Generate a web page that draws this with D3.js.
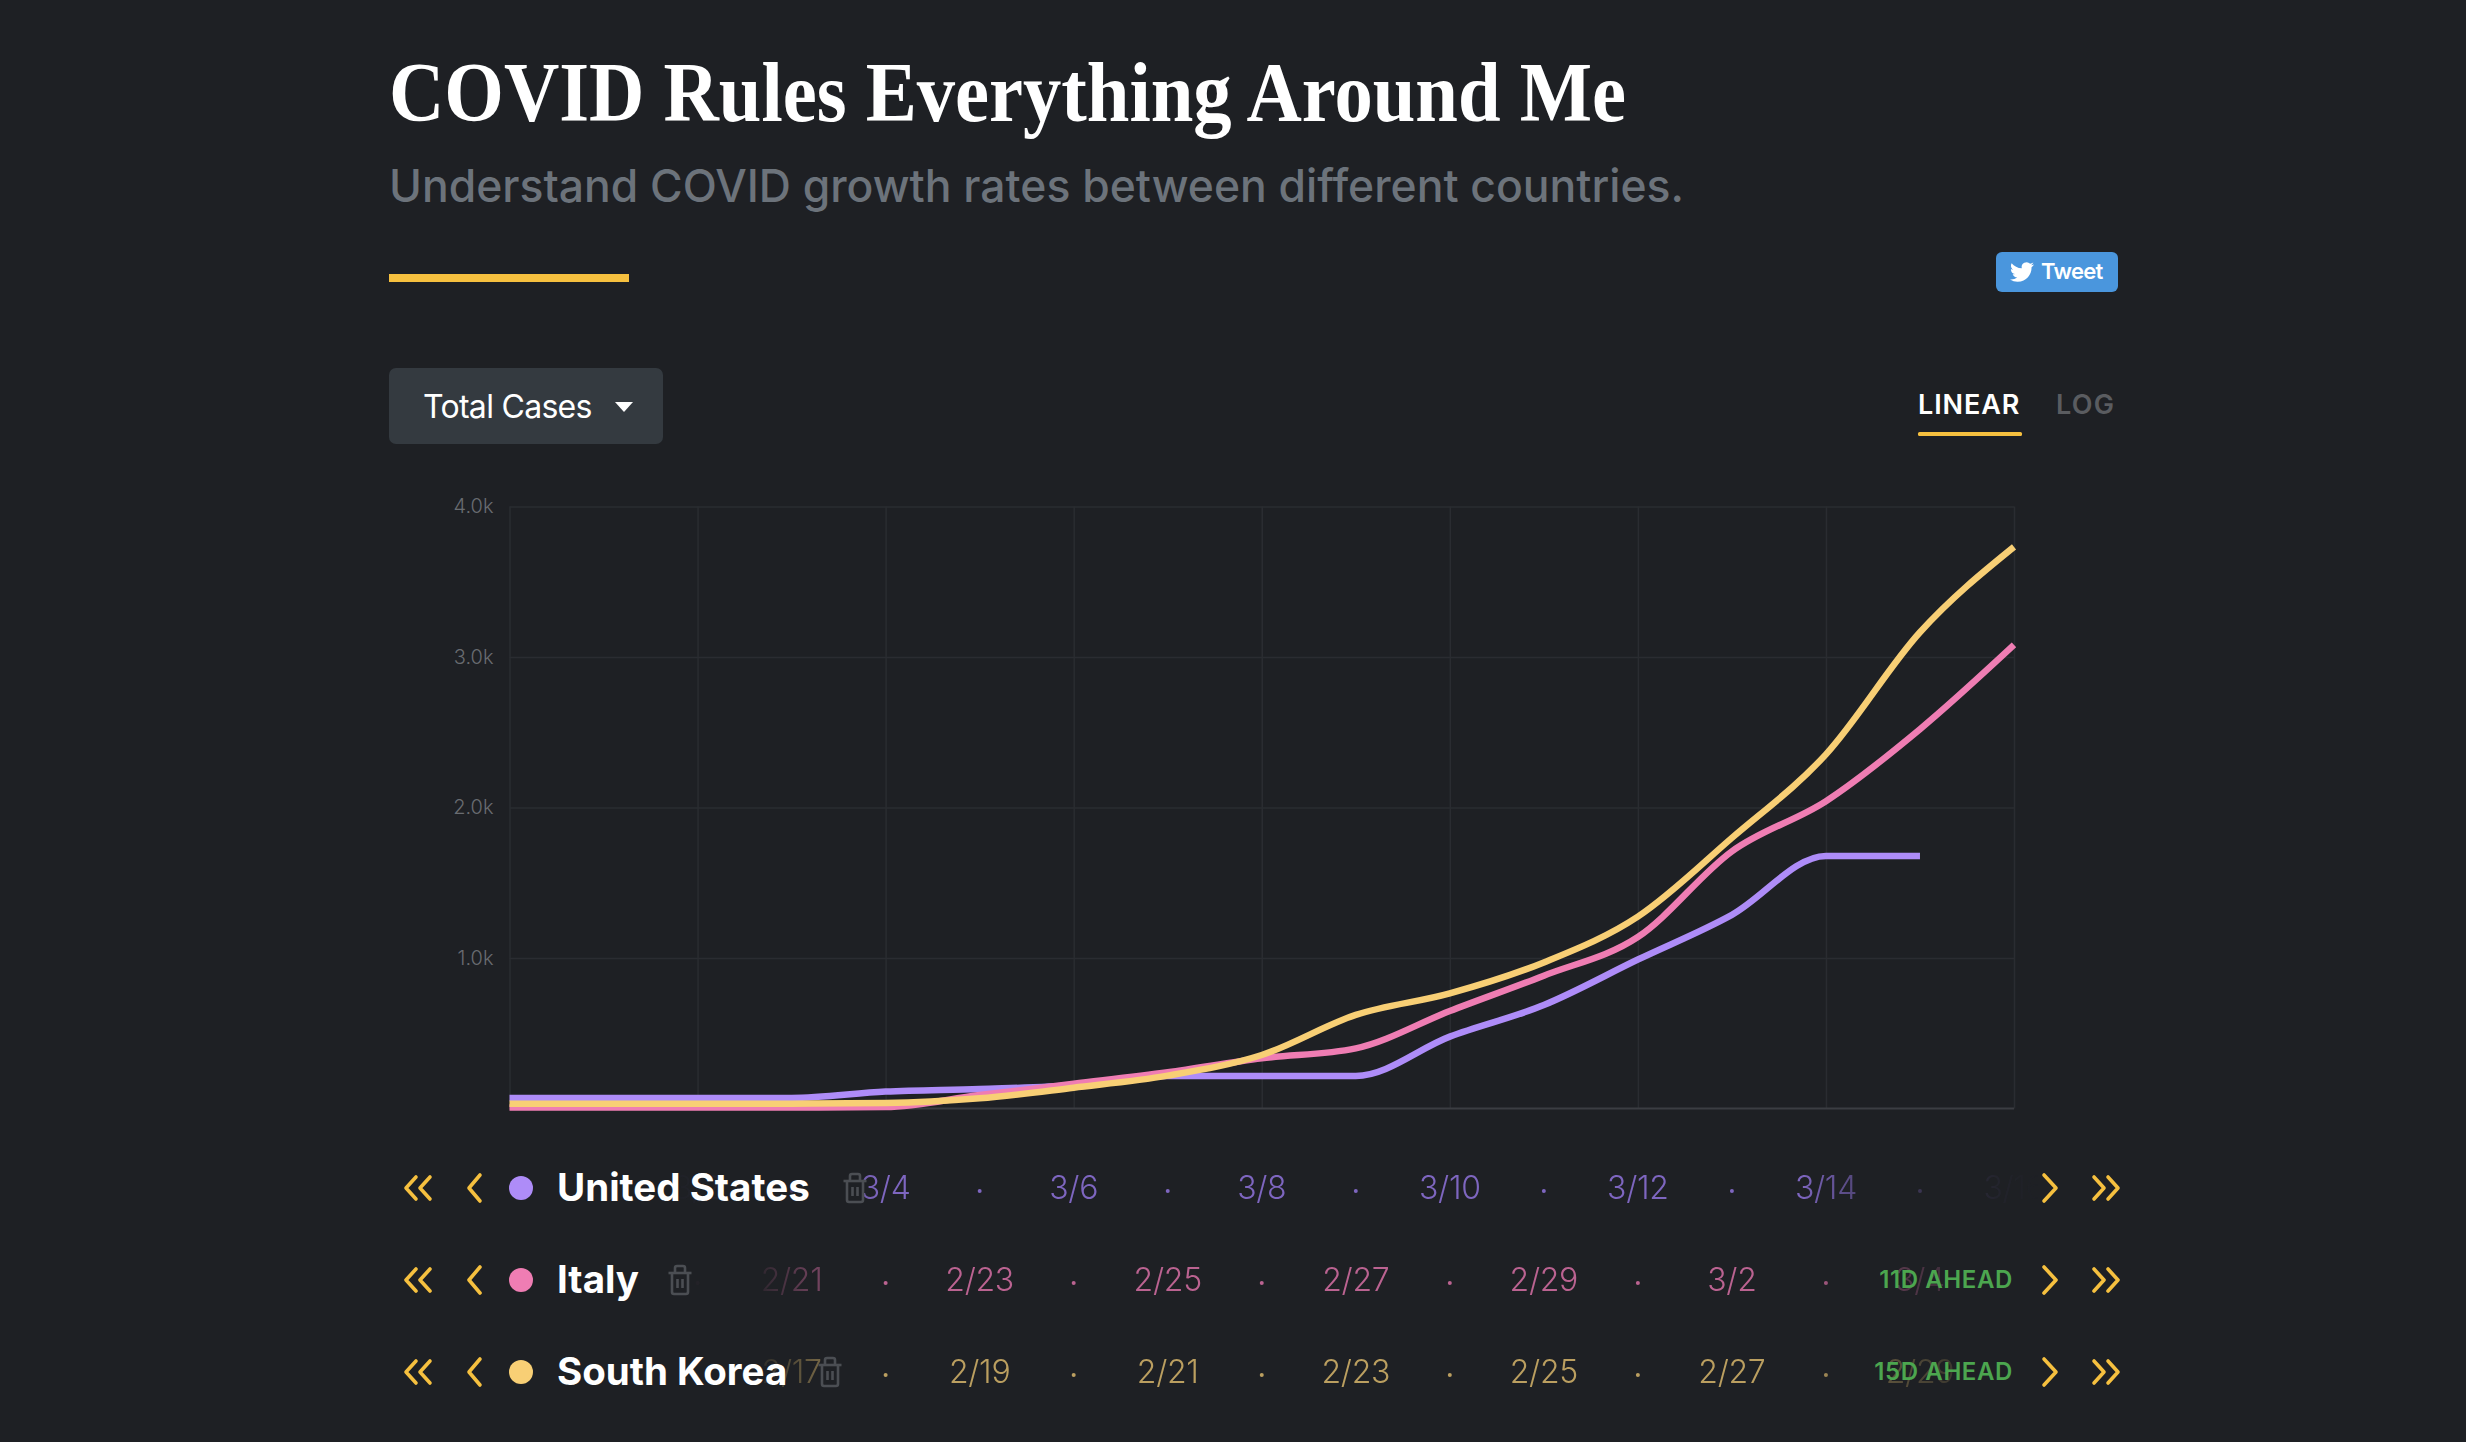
<!DOCTYPE html>
<html>
<head>
<meta charset="utf-8">
<script src="https://cdn.jsdelivr.net/npm/d3@7/dist/d3.min.js"></script>
<style>
html,body{margin:0;padding:0;background:#1e2024;overflow:hidden}
svg{display:block}
text{font-family:Inter,sans-serif}
</style>
</head>
<body>
<svg id="c" width="2466" height="1442"></svg>
<script>
const titleText = "COVID Rules Everything Around Me";
const subtitleText = "Understand COVID growth rates between different countries.";
const metricLabel = "Total Cases";
const scaleLabels = ["LINEAR", "LOG"];
const yTicks = [1000, 2000, 3000, 4000];
const xTicks = [0, 2, 4, 6, 8, 10, 12, 14, 16];

const names = ["United States", "Italy", "South Korea"];
const colors = ["#ae8cf8", "#ef7db3", "#f8cf75"];
const labelColors = ["#7e66c0", "#bb6391", "#bb9f60"];
const aheadLabels = ["", "11D AHEAD", "15D AHEAD"];

const usValues    = [71, 71, 71, 71, 113, 130, 155, 217, 217, 217, 478, 688, 990, 1287, 1678, 1678];
const italyValues = [7, 7, 7, 7, 10, 90, 165, 241, 334, 400, 648, 883, 1140, 1709, 2042, 2520, 3080];
const koreaValues = [33, 33, 33, 33, 37, 68, 139, 219, 356, 622, 765, 971, 1275, 1798, 2353, 3164, 3731];
const seriesValues = [usValues, italyValues, koreaValues];

const usDates    = ["3/2", "3/4", "3/6", "3/8", "3/10", "3/12", "3/14", "3/16"];
const italyDates = ["2/19", "2/21", "2/23", "2/25", "2/27", "2/29", "3/2", "3/4"];
const koreaDates = ["2/15", "2/17", "2/19", "2/21", "2/23", "2/25", "2/27", "2/29"];
const rowDates = [usDates, italyDates, koreaDates];
const rowFirstDay = [2, 1, 1];

const svg = d3.select("#c");
const x = d3.scaleLinear().domain([0, 16]).range([509.5, 2014]);
const y = d3.scaleLinear().domain([0, 4000]).range([1108.6, 506.4]);
const rowY = [1188, 1280, 1372];
const yellow = "#f6c03f";

// header
svg.append("text").attr("x", 389).attr("y", 121).text(titleText)
  .attr("font-size", 84).attr("fill", "#fff").attr("font-weight", 700)
  .style("font-family", "'Liberation Serif',serif")
  .attr("textLength", 1237).attr("lengthAdjust", "spacingAndGlyphs");
svg.append("text").attr("x", 389).attr("y", 202).text(subtitleText)
  .attr("font-size", 45).attr("font-weight", 500).attr("fill", "#6c737b").attr("textLength", 1295).attr("lengthAdjust", "spacingAndGlyphs");
svg.append("rect").attr("x", 389).attr("y", 274).attr("width", 240).attr("height", 8).attr("fill", yellow);

// tweet
svg.append("rect").attr("x", 1996).attr("y", 252).attr("width", 122).attr("height", 40).attr("rx", 6).attr("fill", "#4a96dd");
svg.append("path").attr("transform", "translate(2010,260)").attr("fill", "#fff")
  .attr("d", "M23.953 4.57a10 10 0 01-2.825.775 4.958 4.958 0 002.163-2.723c-.951.555-2.005.959-3.127 1.184a4.92 4.92 0 00-8.384 4.482C7.69 8.095 4.067 6.13 1.64 3.162a4.822 4.822 0 00-.666 2.475c0 1.71.87 3.213 2.188 4.096a4.904 4.904 0 01-2.228-.616v.06a4.923 4.923 0 003.946 4.827 4.996 4.996 0 01-2.212.085 4.936 4.936 0 004.604 3.417 9.867 9.867 0 01-6.102 2.105c-.39 0-.779-.023-1.17-.067a13.995 13.995 0 007.557 2.209c9.053 0 13.998-7.496 13.998-13.985 0-.21 0-.42-.015-.63A9.935 9.935 0 0024 4.59z");
svg.append("text").attr("x", 2041).attr("y", 279).text("Tweet").attr("font-size", 22).attr("font-weight", 600).attr("fill", "#fff").attr("letter-spacing", -0.7);

// dropdown
svg.append("rect").attr("x", 389).attr("y", 368).attr("width", 274).attr("height", 76).attr("rx", 7).attr("fill", "#343a40");
svg.append("text").attr("x", 423).attr("y", 418).text(metricLabel).attr("font-size", 32).attr("fill", "#fff").attr("font-weight", 400).attr("letter-spacing", -0.7);
svg.append("path").attr("d", "M615 402H633L624 412Z").attr("fill", "#fff");

// scale tabs
svg.append("text").attr("x", 1918).attr("y", 414).text(scaleLabels[0]).attr("font-size", 27).attr("font-weight", 600).attr("fill", "#fff").attr("letter-spacing", 0.9);
svg.append("text").attr("x", 2056).attr("y", 414).text(scaleLabels[1]).attr("font-size", 27).attr("font-weight", 600).attr("fill", "#5a5c60").attr("letter-spacing", 1.2);
svg.append("rect").attr("x", 1918).attr("y", 432).attr("width", 104).attr("height", 4).attr("rx", 1.5).attr("fill", yellow);

// grid
const gridG = svg.append("g");
const xAxis = d3.axisBottom(x).tickValues(xTicks).tickSize(y(0) - y(4000)).tickFormat("");
gridG.append("g").attr("transform", `translate(0,${y(4000)})`).call(xAxis)
  .call(g => g.select(".domain").remove())
  .call(g => g.selectAll("line").attr("stroke", "#2a2c31").attr("stroke-width", 1.5));
const yAxis = d3.axisLeft(y).tickValues(yTicks).tickSize(x(16) - x(0)).tickPadding(16)
  .tickFormat(d => d3.format(".1f")(d / 1000) + "k");
gridG.append("g").attr("transform", `translate(${x(16)},0)`).call(yAxis)
  .call(g => g.select(".domain").remove())
  .call(g => g.selectAll("line").attr("stroke", "#2a2c31").attr("stroke-width", 1.5))
  .call(g => g.selectAll("text").attr("x", -(x(16) - x(0)) - 16).attr("fill", "#696c71").attr("font-size", 20)
     .attr("font-weight", 300).style("font-family", "Inter,sans-serif"));
gridG.append("line").attr("x1", x(0)).attr("x2", x(16)).attr("y1", y(0)).attr("y2", y(0))
  .attr("stroke", "#3b3d42").attr("stroke-width", 2);

// lines
const line = d3.line().x((d, i) => x(i)).y(d => y(d)).curve(d3.curveMonotoneX);
svg.append("g").selectAll("path").data(seriesValues).join("path")
  .attr("d", line).attr("fill", "none").attr("stroke", (d, i) => colors[i]).attr("stroke-width", 6.5);

// row fade mask
const defs = svg.append("defs");
const grad = defs.append("linearGradient").attr("id", "fade").attr("gradientUnits", "userSpaceOnUse")
  .attr("x1", 660).attr("x2", 2040).attr("y1", 0).attr("y2", 0);
[[660, 0], [760, .1], [880, 1], [1800, 1], [1870, .45], [2000, .05], [2040, 0]].forEach(s =>
  grad.append("stop").attr("offset", (s[0] - 660) / 1380).attr("stop-color", "#fff").attr("stop-opacity", s[1]));
defs.append("mask").attr("id", "rowMask").attr("maskUnits", "userSpaceOnUse")
  .attr("x", 400).attr("y", 1100).attr("width", 1800).attr("height", 340)
  .append("rect").attr("x", 400).attr("y", 1100).attr("width", 1800).attr("height", 340).attr("fill", "url(#fade)");

const labelsLayer = svg.append("g").attr("mask", "url(#rowMask)");
rowDates.forEach((dates, r) => {
  const g = labelsLayer.append("g");
  g.selectAll("text").data(dates).join("text")
    .attr("x", (d, i) => x(rowFirstDay[r] + i * 2)).attr("y", rowY[r] + 11)
    .attr("text-anchor", "middle").attr("font-size", 32).attr("font-weight", 300).attr("letter-spacing", -0.3)
    .attr("fill", labelColors[r]).text(d => d);
  g.selectAll("circle").data(dates).join("circle")
    .attr("cx", (d, i) => x(rowFirstDay[r] + i * 2 - 1)).attr("cy", rowY[r] + 3).attr("r", 2)
    .attr("fill", labelColors[r]);
});

// controls
const trashX = [855, 680, 830];
names.forEach((name, r) => {
  const cy = rowY[r];
  const g = svg.append("g");
  const chev = d => g.append("path").attr("d", d).attr("fill", "none").attr("stroke", yellow)
    .attr("stroke-width", 3.6).attr("stroke-linecap", "round").attr("stroke-linejoin", "round")
    .attr("transform", `translate(0,${cy})`);
  chev("M416 -11L406 0L416 11M430 -11L420 0L430 11");
  chev("M480 -13L469 0L480 13");
  chev("M2044 -13L2056 0L2044 13");
  chev("M2094 -11L2104 0L2094 11M2108 -11L2118 0L2108 11");
  g.append("circle").attr("cx", 521).attr("cy", cy).attr("r", 12).attr("fill", colors[r]);
  g.append("text").attr("x", 557).attr("y", cy + 13).text(name).attr("font-size", 38.5).attr("font-weight", 700).attr("fill", "#fff");
  const t = g.append("g").attr("transform", `translate(${trashX[r]},${cy})`).attr("fill", "none")
    .attr("stroke", "#4b4e53").attr("stroke-width", 2.6);
  t.append("path").attr("d", "M-8 -7V12Q-8 14 -6 14H6Q8 14 8 12V-7");
  t.append("path").attr("d", "M-11.5 -7H11.5");
  t.append("path").attr("d", "M-5 -7V-12Q-5 -14 -3 -14H3Q5 -14 5 -12V-7");
  t.append("path").attr("d", "M-2.5 -1V8M2.5 -1V8");
  if (aheadLabels[r]) {
    g.append("text").attr("x", 2013).attr("y", cy + 8).attr("text-anchor", "end").text(aheadLabels[r])
      .attr("font-size", 24).attr("font-weight", 600).attr("fill", "#4ca64f").attr("letter-spacing", 0.6);
  }
});
</script>
</body>
</html>
